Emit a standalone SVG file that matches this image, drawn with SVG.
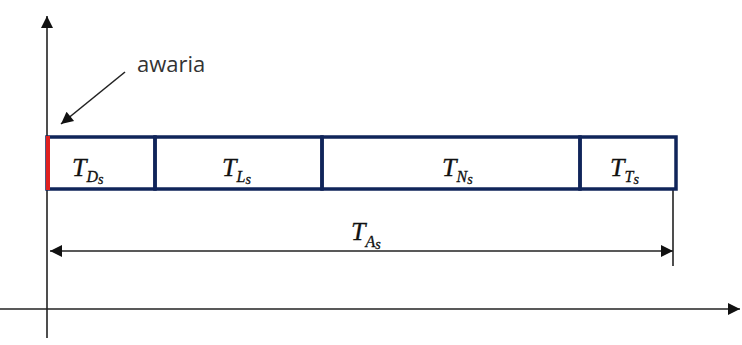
<svg xmlns="http://www.w3.org/2000/svg" width="742" height="345" viewBox="0 0 742 345">
<style>
.ax{stroke:#222;stroke-width:1.6;fill:none}
.bx{stroke:#10255a;stroke-width:3.5;fill:none}
.lbl{font-family:"Liberation Serif","DejaVu Serif",serif;font-style:italic;fill:#111;stroke:#111;stroke-width:0.3}
.t{font-size:26px}
.s1{font-size:16px}
.s2{font-size:14px}
.aw{font-family:"Open Sans","Liberation Sans",sans-serif;font-size:22px;fill:#333}
</style>
<defs>
<marker id="ahb" viewBox="0 0 10 10" refX="10" refY="5" markerWidth="14" markerHeight="12" markerUnits="userSpaceOnUse" orient="auto-start-reverse">
<path d="M0,0 L10,5 L0,10 z" fill="#111"/>
</marker>
</defs>
<g id="connectors">
<line class="ax" x1="47" y1="338" x2="47" y2="16" marker-end="url(#ahb)"/>
<line class="ax" x1="0" y1="309" x2="740" y2="309" marker-end="url(#ahb)"/>
<line class="ax" x1="125" y1="72" x2="61" y2="124" marker-end="url(#ahb)"/>
<line class="ax" x1="50" y1="251" x2="673" y2="251" marker-start="url(#ahb)" marker-end="url(#ahb)"/>
<line class="ax" x1="673" y1="190" x2="673" y2="266"/>
</g>
<g id="box-TD">
<rect class="bx" x="47" y="137" width="108" height="52"/>
<text class="lbl" x="72" y="176"><tspan class="t">T</tspan><tspan class="s1" dy="6">D</tspan><tspan class="s2" dy="2">s</tspan></text>
</g>
<g id="box-TL">
<rect class="bx" x="155" y="137" width="167" height="52"/>
<text class="lbl" x="222" y="176"><tspan class="t">T</tspan><tspan class="s1" dy="6">L</tspan><tspan class="s2" dy="2">s</tspan></text>
</g>
<g id="box-TN">
<rect class="bx" x="322" y="137" width="258" height="52"/>
<text class="lbl" x="442" y="176"><tspan class="t">T</tspan><tspan class="s1" dy="6">N</tspan><tspan class="s2" dy="2">s</tspan></text>
</g>
<g id="box-TT">
<rect class="bx" x="580" y="137" width="96" height="52"/>
<text class="lbl" x="610" y="176"><tspan class="t">T</tspan><tspan class="s1" dy="6">T</tspan><tspan class="s2" dy="2">s</tspan></text>
</g>
<g id="failure">
<line x1="48" y1="136" x2="48" y2="190" stroke="#e02020" stroke-width="4"/>
<text class="aw" x="137" y="72">awaria</text>
</g>
<g id="label-TA">
<text class="lbl" x="351" y="240"><tspan class="t">T</tspan><tspan class="s1" dy="7">A</tspan><tspan class="s2" dy="2">s</tspan></text>
</g>
</svg>
